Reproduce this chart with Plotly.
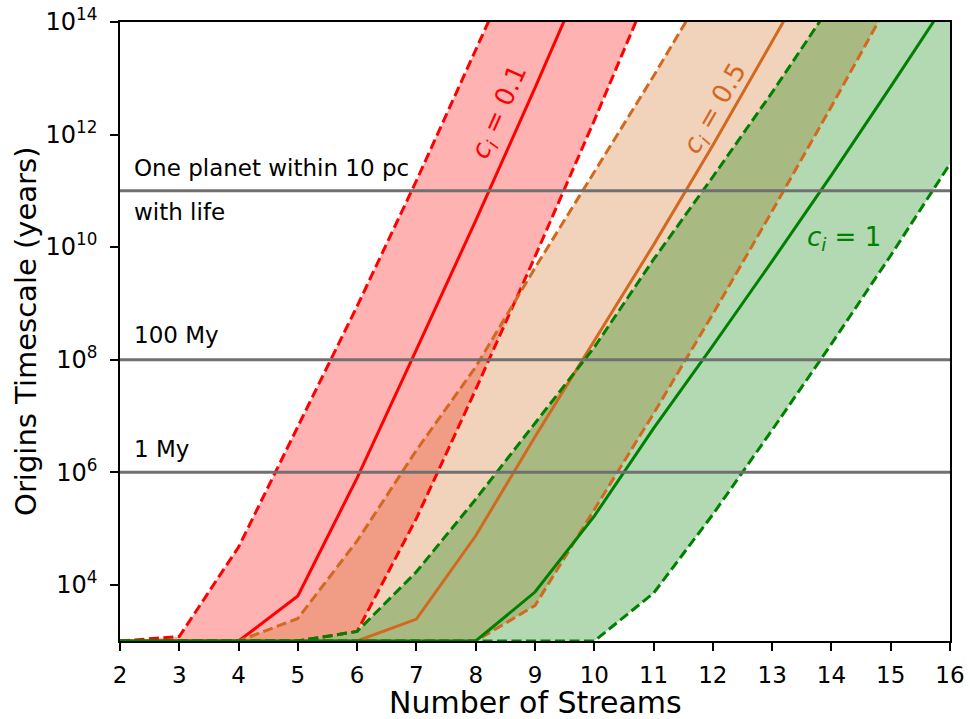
import plotly.graph_objects as go

# Number of streams
N = list(range(2, 17))

# log10(Origins timescale / years) (floored at 10^3)
red_upper = [3.0, 3.08, 4.67, 6.80, 8.95, 11.18, 13.47, 15.83]
red_mid = [3.0, 3.0, 3.0, 3.80, 5.90, 8.18, 10.47, 12.83, 15.25]
red_lower = [3.0, 3.0, 3.0, 3.0, 3.17, 5.18, 7.47, 9.83, 12.25, 14.75]

orange_upper = [3.0, 3.0, 3.0, 3.40, 4.78, 6.39, 7.87, 9.63, 11.33, 13.04, 14.81]
orange_mid = [3.0, 3.0, 3.0, 3.0, 3.0, 3.39, 4.87, 6.63, 8.33, 10.04, 11.81, 13.64, 15.5]
orange_lower = [3.0, 3.0, 3.0, 3.0, 3.0, 3.0, 3.0, 3.63, 5.33, 7.04, 8.81, 10.64, 12.5, 14.4]

green_upper = [3.0, 3.0, 3.0, 3.0, 3.17, 4.23, 5.52, 6.87, 8.22, 9.78, 11.25, 12.75, 14.3, 15.87, 17.45]
green_mid = [3.0, 3.0, 3.0, 3.0, 3.0, 3.0, 3.0, 3.87, 5.22, 6.78, 8.25, 9.75, 11.28, 12.85, 14.45]
green_lower = [3.0, 3.0, 3.0, 3.0, 3.0, 3.0, 3.0, 3.0, 3.0, 3.85, 5.25, 6.75, 8.28, 9.85, 11.48]

# Reference levels (years) and their labels
ref_levels = [1e11, 1e8, 1e6]
ref_labels_above = ["One planet within 10 pc", "100 My", "1 My"]
ref_label_below = "with life"

band_labels = ["<i>c</i><sub><i>i</i></sub> = 0.1",
               "<i>c</i><sub><i>i</i></sub> = 0.5",
               "<i>c</i><sub><i>i</i></sub> = 1"]

y_tick_exps = [4, 6, 8, 10, 12, 14]

FONT = "DejaVu Sans"
bands = [
    ("#ff0000", "rgba(255,0,0,0.3)", red_upper, red_mid, red_lower),
    ("#d2691e", "rgba(210,105,30,0.3)", orange_upper, orange_mid, orange_lower),
    ("#008000", "rgba(0,128,0,0.3)", green_upper, green_mid, green_lower),
]


def years(vals):
    return [10 ** v for v in vals]


fig = go.Figure()

# filled bands
for col, fill, up, mid, lo in bands:
    xs = N[:len(up)] + N[:len(lo)][::-1]
    ys = years(up) + years(lo)[::-1]
    fig.add_trace(go.Scatter(x=xs, y=ys, fill="toself", fillcolor=fill,
                             mode="lines", line=dict(width=0),
                             hoverinfo="skip", showlegend=False))

# bounding and central lines
for col, fill, up, mid, lo in bands:
    for vals, dash in ((up, "10px,4.5px"), (lo, "10px,4.5px"), (mid, "solid")):
        fig.add_trace(go.Scatter(x=N[:len(vals)], y=years(vals), mode="lines",
                                 line=dict(color=col, width=3, dash=dash),
                                 showlegend=False))

# reference horizontal lines
for lvl in ref_levels:
    fig.add_trace(go.Scatter(x=[N[0], N[-1]], y=[lvl, lvl], mode="lines",
                             line=dict(color="#707070", width=3),
                             showlegend=False))

ann = []
above_y = [11.41, 8.44, 6.42]
for lvl, txt, yy in zip(ref_levels, ref_labels_above, above_y):
    ann.append(dict(x=2.21, y=yy, xref="x", yref="y", text=txt, showarrow=False,
                    xanchor="left", yanchor="middle",
                    font=dict(family=FONT, size=23, color="black")))
ann.append(dict(x=2.21, y=10.63, xref="x", yref="y", text=ref_label_below,
                showarrow=False, xanchor="left", yanchor="middle",
                font=dict(family=FONT, size=23, color="black")))

label_pos = [(8.40, 12.40, -66), (12.05, 12.46, -60), (14.21, 10.15, 0)]
for (col, *_), txt, (lx, ly, ang) in zip(bands, band_labels, label_pos):
    ann.append(dict(x=lx, y=ly, xref="x", yref="y", text=txt, showarrow=False,
                    textangle=ang, xanchor="center", yanchor="middle",
                    font=dict(family=FONT, size=26, color=col)))

# axis titles
ann.append(dict(x=-0.114, y=0.5, xref="paper", yref="paper",
                text="Origins Timescale (years)", showarrow=False,
                textangle=-90, xanchor="center", yanchor="middle",
                font=dict(family=FONT, size=29, color="black")))
ann.append(dict(x=0.5, y=-0.099, xref="paper", yref="paper",
                text="Number of Streams", showarrow=False,
                xanchor="center", yanchor="middle",
                font=dict(family=FONT, size=30, color="black")))

fig.update_layout(
    width=970, height=719,
    margin=dict(l=120, r=20, t=22, b=78, autoexpand=False),
    plot_bgcolor="white", paper_bgcolor="white",
    font=dict(family=FONT, size=22, color="black"),
    annotations=ann,
    xaxis=dict(range=[2, 16], tickmode="array", tickvals=N,
               ticktext=[str(n) for n in N],
               ticks="outside", ticklen=8, tickwidth=1.5, tickcolor="black",
               ticklabelstandoff=5, ticklabeloverflow="allow", automargin=False,
               showline=True, linecolor="black", linewidth=1.5, mirror=True,
               showgrid=False, zeroline=False,
               tickfont=dict(family=FONT, size=23)),
    yaxis=dict(type="log", range=[3, 14], tickmode="array",
               tickvals=[10 ** e for e in y_tick_exps],
               ticktext=["10<sup>%d</sup>" % e for e in y_tick_exps],
               ticks="outside", ticklen=8, tickwidth=1.5, tickcolor="black",
               ticklabelstandoff=8, ticklabeloverflow="allow", automargin=False,
               showline=True, linecolor="black", linewidth=1.5, mirror=True,
               showgrid=False, zeroline=False,
               tickfont=dict(family=FONT, size=24)),
)

# remove the page's default body margin so the figure fills the window
fig.write_html("out.html",
               config={"displayModeBar": False},
               post_script="document.body.style.margin='0px';"
                           "document.body.style.overflow='hidden';")
